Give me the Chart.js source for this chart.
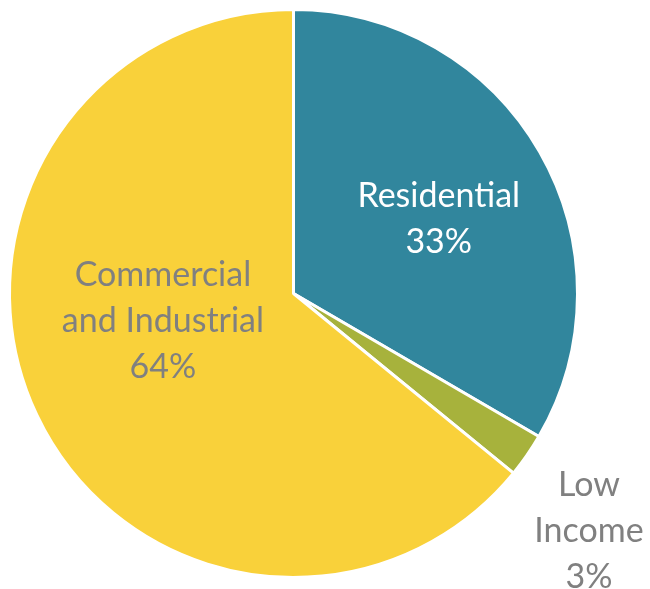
<!DOCTYPE html>
<html>
<head>
<meta charset="utf-8">
<script src="https://cdn.jsdelivr.net/npm/chart.js@4/dist/chart.umd.min.js"></script>
<style>
  html, body { margin: 0; padding: 0; background: #fff; }
  #wrap { width: 650px; height: 589px; position: relative; }
</style>
</head>
<body>
<div id="wrap"><canvas id="pieChart"></canvas></div>
<script>
// Anteile
const categories = ['Residential', 'Low Income', 'Commercial and Industrial'];
const labelLines = [['Residential'], ['Low', 'Income'], ['Commercial', 'and Industrial']];
const shares = [33.4, 2.5, 64.1];
const sliceColors = ['#31869d', '#a7b23c', '#f9d13a'];

// Label-Platzierung: Winkel ab 12 Uhr (Grad), Abstand als Anteil des Radius
const labelPlacement = [
  { angle: 62.8, dist: 0.575, color: '#ffffff' },
  { angle: 128.8, dist: 1.335, color: '#808080' },
  { angle: 258, dist: 0.47, color: '#808080' }
];

const sliceLabels = {
  id: 'sliceLabels',
  afterDatasetsDraw(chart) {
    const ctx = chart.ctx;
    const arcs = chart.getDatasetMeta(0).data;
    ctx.save();
    ctx.font = '34px Lato';
    ctx.textAlign = 'center';
    ctx.textBaseline = 'middle';
    arcs.forEach((arc, i) => {
      const p = labelPlacement[i];
      const a = (p.angle - 90) * Math.PI / 180;
      const cx = arc.x + Math.cos(a) * arc.outerRadius * p.dist;
      const cy = arc.y + Math.sin(a) * arc.outerRadius * p.dist;
      const lines = labelLines[i].concat([Math.round(shares[i]) + '%']);
      const lh = 46;
      ctx.fillStyle = p.color;
      lines.forEach((t, j) => {
        ctx.fillText(t, cx, cy + (j - (lines.length - 1) / 2) * lh);
      });
    });
    ctx.restore();
  }
};

const chart = new Chart(document.getElementById('pieChart'), {
  type: 'pie',
  data: {
    labels: categories,
    datasets: [{
      data: shares,
      backgroundColor: sliceColors,
      borderColor: '#ffffff',
      borderWidth: 3
    }]
  },
  options: {
    responsive: true,
    maintainAspectRatio: false,
    animation: false,
    layout: { padding: { top: 8, bottom: 10, left: 8, right: 71 } },
    plugins: {
      legend: { display: false },
      tooltip: { enabled: false }
    }
  },
  plugins: [sliceLabels]
});
</script>
</body>
</html>
